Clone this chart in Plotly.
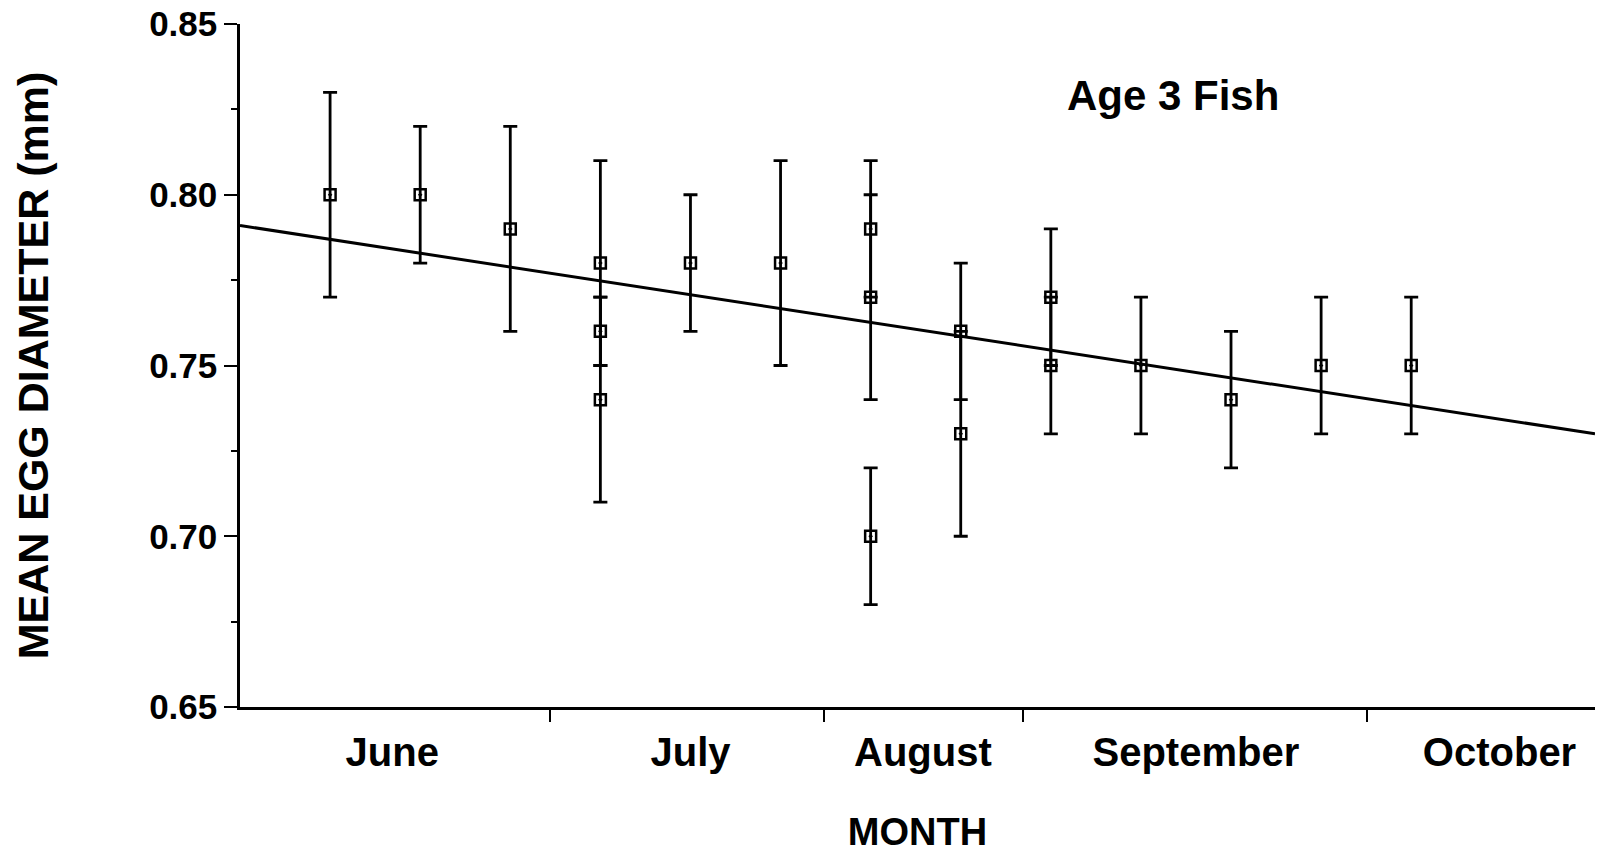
import plotly.graph_objects as go

# Sampling day (days from start of x axis) for each sample mean
days = [10, 20, 30, 40, 40, 40, 50, 60, 70, 70, 70, 80, 80, 90, 90, 100, 110, 120, 130]
mean_diam = [0.80, 0.80, 0.79, 0.78, 0.76, 0.74, 0.78, 0.78, 0.79, 0.77, 0.70,
             0.76, 0.73, 0.77, 0.75, 0.75, 0.74, 0.75, 0.75]
err = [0.03, 0.02, 0.03, 0.03, 0.01, 0.03, 0.02, 0.03, 0.02, 0.03, 0.02,
       0.02, 0.03, 0.02, 0.02, 0.02, 0.02, 0.02, 0.02]

# Regression line end points
trend_days = [0, 150.4]
trend_vals = [0.791, 0.730]

# Month labels and month boundary ticks
months = ["June", "July", "August", "September", "October"]
month_label_days = [16.9, 50.0, 75.8, 106.1, 139.8]
month_boundary_days = [34.4, 64.8, 86.9, 125.1]

y_ticks = [0.65, 0.70, 0.75, 0.80, 0.85]

FONT = "Liberation Sans, Arial, sans-serif"

fig = go.Figure()

fig.add_trace(go.Scatter(
    x=trend_days, y=trend_vals, mode="lines",
    line=dict(color="black", width=3), showlegend=False, hoverinfo="skip"))

fig.add_trace(go.Scatter(
    x=days, y=mean_diam, mode="markers",
    marker=dict(symbol="square-open-dot", size=11, color="black",
                line=dict(color="black", width=2.5)),
    error_y=dict(type="data", array=err, visible=True, color="black",
                 thickness=2.8, width=7),
    showlegend=False))

fig.add_annotation(x=103.6, y=0.829, xref="x", yref="y", text="Age 3 Fish",
                   showarrow=False,
                   font=dict(family=FONT, size=42, color="black", weight="bold"))

fig.update_layout(
    width=1599, height=857, autosize=False,
    margin=dict(l=240, r=4, t=19, b=150),
    paper_bgcolor="white", plot_bgcolor="white",
    font=dict(family=FONT, color="black", weight="bold"),
)

fig.update_xaxes(
    range=[0, 150.4], showgrid=False, zeroline=False,
    showline=True, linecolor="black", linewidth=2.5,
    tickvals=month_label_days, ticktext=months, ticks="",
    ticklabelstandoff=8, ticklabeloverflow="allow",
    tickfont=dict(family=FONT, size=40, color="black", weight="bold"),
    minor=dict(tickvals=month_boundary_days, ticks="outside", ticklen=12,
               tickwidth=2, tickcolor="black", showgrid=False),
    title=dict(text="MONTH", standoff=46,
               font=dict(family=FONT, size=38, color="black", weight="bold")),
)

fig.update_yaxes(
    range=[0.65, 0.85], showgrid=False, zeroline=False,
    showline=True, linecolor="black", linewidth=2.5,
    tickvals=y_ticks, tickformat=".2f", ticklabeloverflow="allow",
    ticks="outside", ticklen=13, tickwidth=2, tickcolor="black",
    tickfont=dict(family=FONT, size=35, color="black", weight="bold"),
    minor=dict(dtick=0.025, ticks="outside", ticklen=6, tickwidth=2,
               tickcolor="black", showgrid=False),
    title=dict(text="MEAN EGG DIAMETER (mm)", standoff=88,
               font=dict(family=FONT, size=43, color="black", weight="bold")),
)

fig.write_html("out.html")
